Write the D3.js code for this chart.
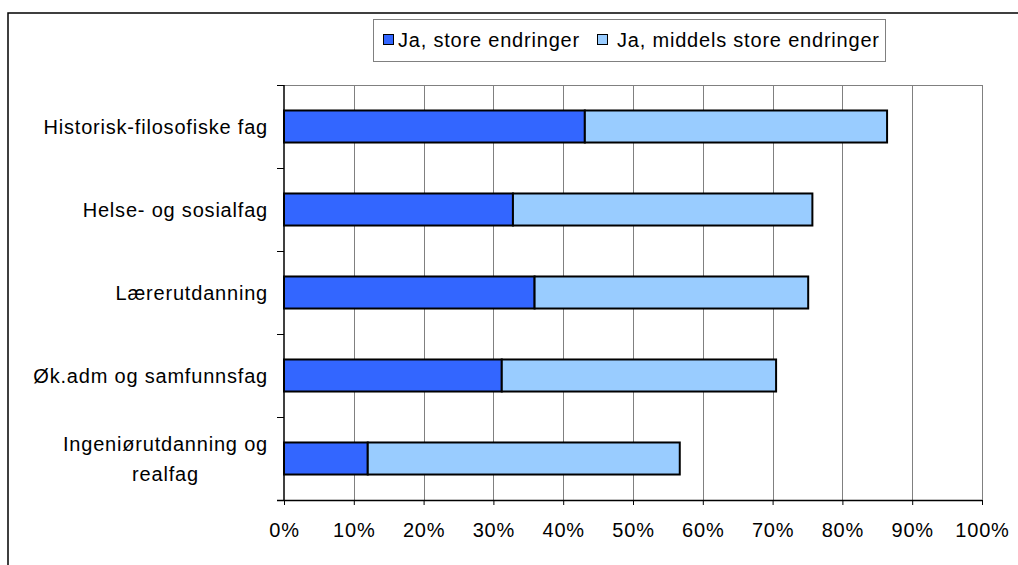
<!DOCTYPE html>
<html>
<head>
<meta charset="utf-8">
<script src="https://cdn.jsdelivr.net/npm/d3@7"></script>
<style>
  html, body { margin: 0; padding: 0; background: #fff; }
  svg { display: block; font-family: "Liberation Sans", Arial, sans-serif; }
</style>
</head>
<body>
<svg id="chart" width="1018" height="565"></svg>
<script>
const categories = [
  "Historisk-filosofiske fag",
  "Helse- og sosialfag",
  "Lærerutdanning",
  "Øk.adm og samfunnsfag",
  "Ingeniørutdanning og realfag"
];
const seriesNames = ["Ja, store endringer", "Ja, middels store endringer"];
const storeEndringer = [43.1, 32.8, 35.9, 31.2, 12.0];
const middelsStore = [43.3, 42.9, 39.2, 39.3, 44.7];
const xTicks = [0, 10, 20, 30, 40, 50, 60, 70, 80, 90, 100];

(function () {
const colors = ["#3366FF", "#99CCFF"];
const svg = d3.select("#chart");

// outer chart frame
svg.append("rect").attr("x", 8).attr("y", 13).attr("width", 1030).attr("height", 580)
  .attr("fill", "#fff").attr("stroke", "#000").attr("stroke-width", 1.5);

const pLeft = 284, pRight = 982, pTop = 85, pBottom = 500;
const x = d3.scaleLinear().domain([0, 100]).range([pLeft, pRight]);
const y = d3.scaleBand().domain(categories).range([pTop, pBottom])
  .paddingInner(0.614).paddingOuter(0.307);

// plot top border
svg.append("line").attr("x1", pLeft).attr("x2", pRight).attr("y1", pTop + 0.5).attr("y2", pTop + 0.5)
  .attr("stroke", "#808080").attr("stroke-width", 1);

// gridlines
svg.append("g").selectAll("line").data(xTicks.filter(d => d > 0)).join("line")
  .attr("x1", d => Math.round(x(d)) + 0.5).attr("x2", d => Math.round(x(d)) + 0.5)
  .attr("y1", pTop).attr("y2", pBottom)
  .attr("stroke", "#808080").attr("stroke-width", 1);

// bars
const stackData = categories.map((c, i) => ({ cat: c, a: storeEndringer[i], b: middelsStore[i] }));
const gBars = svg.append("g");
stackData.forEach(d => {
  gBars.append("rect")
    .attr("x", x(0)).attr("y", y(d.cat))
    .attr("width", x(d.a) - x(0)).attr("height", y.bandwidth())
    .attr("fill", colors[0]).attr("stroke", "#000").attr("stroke-width", 2);
  gBars.append("rect")
    .attr("x", x(d.a)).attr("y", y(d.cat))
    .attr("width", x(d.a + d.b) - x(d.a)).attr("height", y.bandwidth())
    .attr("fill", colors[1]).attr("stroke", "#000").attr("stroke-width", 2);
});

// x axis
const xAxis = d3.axisBottom(x).tickValues(xTicks).tickFormat(d => d + "%").tickSize(5).tickSizeOuter(0);
const gx = svg.append("g").attr("transform", `translate(0,${pBottom})`).call(xAxis);
gx.select(".domain").remove();
gx.append("line").attr("x1", pLeft - 7).attr("x2", pRight).attr("y1", 0.5).attr("y2", 0.5)
  .attr("stroke", "#000").attr("stroke-width", 1.5);
gx.selectAll(".tick line").attr("stroke", "#000");
gx.selectAll(".tick text").attr("y", 37).attr("dy", 0)
  .attr("font-size", 20).attr("letter-spacing", "0.8px").attr("fill", "#000")
  .attr("font-family", "'Liberation Sans', Arial, sans-serif");

// y axis
const boundaries = d3.range(categories.length + 1).map(i => pTop + i * y.step());
svg.append("line").attr("x1", pLeft).attr("x2", pLeft).attr("y1", pTop).attr("y2", pBottom)
  .attr("stroke", "#000").attr("stroke-width", 1.5);
svg.append("g").selectAll("line").data(boundaries).join("line")
  .attr("x1", pLeft - 7).attr("x2", pLeft).attr("y1", d => Math.round(d) + 0.5).attr("y2", d => Math.round(d) + 0.5)
  .attr("stroke", "#000").attr("stroke-width", 1);

// category labels (wrapped like original)
const labelLines = {
  "Ingeniørutdanning og realfag": ["Ingeniørutdanning og", "realfag"]
};
const labelRight = 268;
const lh = 30;
categories.forEach(c => {
  const lines = labelLines[c] || [c];
  const cy = y(c) + y.bandwidth() / 2;
  if (lines.length === 1) {
    svg.append("text").attr("font-size", 20).attr("letter-spacing", "0.8px").attr("fill", "#000")
      .attr("x", labelRight).attr("y", cy + 7).attr("text-anchor", "end").text(lines[0]);
  } else {
    const tmp = svg.append("text").attr("font-size", 20).attr("letter-spacing", "0.8px").text(lines[0]);
    const w = tmp.node().getComputedTextLength();
    tmp.remove();
    const centerX = labelRight - w / 2;
    lines.forEach((ln, i) => {
      svg.append("text").attr("font-size", 20).attr("letter-spacing", "0.8px").attr("fill", "#000")
        .attr("x", centerX).attr("text-anchor", "middle")
        .attr("y", cy + 7 - (lines.length - 1) * lh / 2 + i * lh).text(ln);
    });
  }
});

// legend
const lg = svg.append("g");
lg.append("rect").attr("x", 373.5).attr("y", 19.5).attr("width", 512).attr("height", 42)
  .attr("fill", "#fff").attr("stroke", "#808080").attr("stroke-width", 1);
const legendItems = [
  { name: seriesNames[0], color: colors[0], sx: 383, tx: 398 },
  { name: seriesNames[1], color: colors[1], sx: 597, tx: 617 }
];
legendItems.forEach(it => {
  lg.append("rect").attr("x", it.sx + 0.5).attr("y", 34.5).attr("width", 10).attr("height", 10)
    .attr("fill", it.color).attr("stroke", "#000").attr("stroke-width", 1);
  lg.append("text").attr("x", it.tx).attr("y", 47).attr("font-size", 20)
    .attr("letter-spacing", "0.8px").attr("fill", "#000").text(it.name);
});
})();
</script>
</body>
</html>
